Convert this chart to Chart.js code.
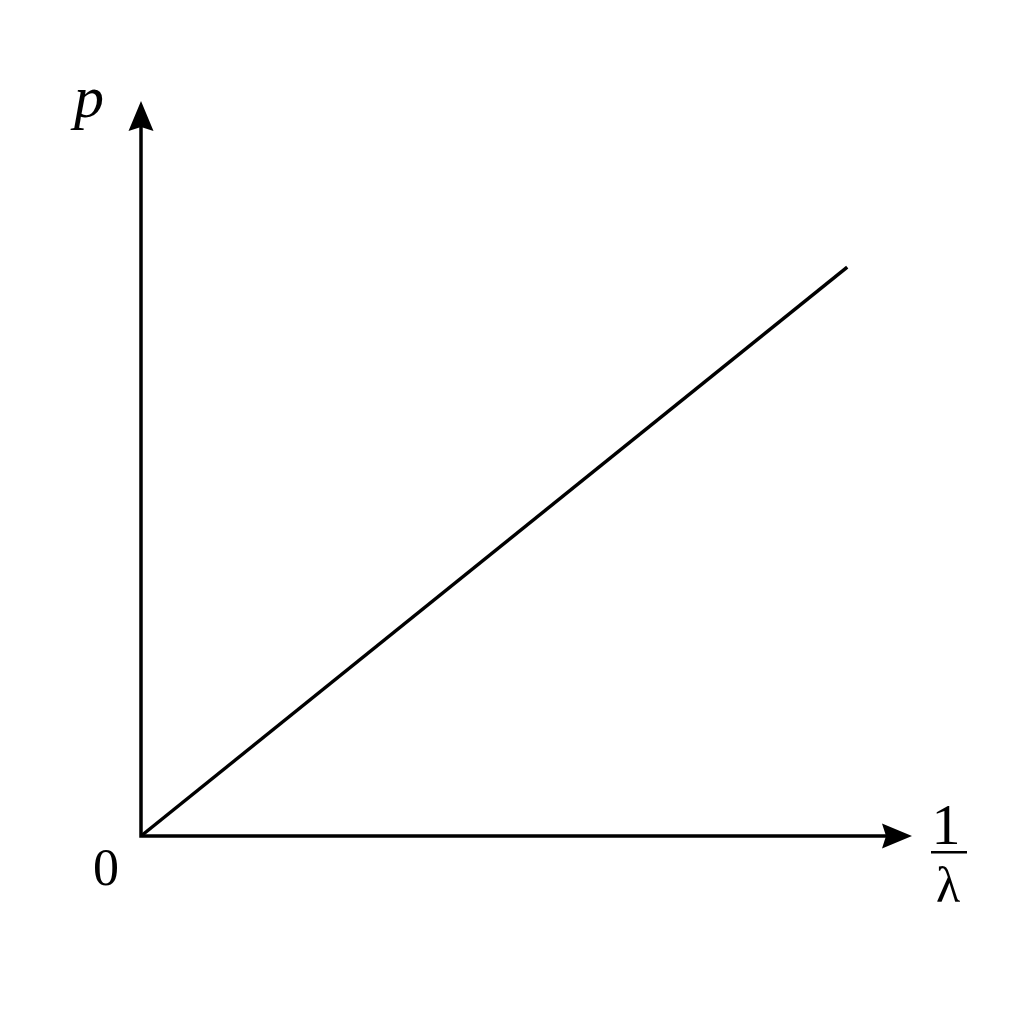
<!DOCTYPE html>
<html>
<head>
<meta charset="utf-8">
<script src="https://cdn.jsdelivr.net/npm/chart.js@4"></script>
<style>
  html, body { margin: 0; padding: 0; background: #fff; }
  #wrap { width: 1024px; height: 1024px; }
</style>
</head>
<body>
<div id="wrap"><canvas id="chart" width="1024" height="1024"></canvas></div>
<script>
// p is proportional to 1/lambda: a straight line from the origin.
const xValues = [0, 9.16];
const yValues = [0, 7.74];
const xRange = [0, 10];
const yRange = [0, 10];

const SERIF = '"Liberation Serif", "Times New Roman", serif';

const drawArrow = (ctx, tipX, tipY, dirX, dirY) => {
  // Stealth-style arrow head with a slight notch at the back.
  const len = 30, half = 12.5, notch = 4;
  const px = -dirY, py = dirX;
  ctx.beginPath();
  ctx.moveTo(tipX, tipY);
  ctx.lineTo(tipX - dirX * len + px * half, tipY - dirY * len + py * half);
  ctx.lineTo(tipX - dirX * (len - notch), tipY - dirY * (len - notch));
  ctx.lineTo(tipX - dirX * len - px * half, tipY - dirY * len - py * half);
  ctx.closePath();
  ctx.fill();
};

const axesPlugin = {
  id: 'axesPlugin',
  afterDatasetsDraw(chart) {
    const { ctx, scales: { x, y } } = chart;
    const ox = x.getPixelForValue(0);
    const oy = y.getPixelForValue(0);
    const xEnd = x.getPixelForValue(xRange[1]);
    const yEnd = y.getPixelForValue(yRange[1]);

    ctx.save();
    ctx.strokeStyle = '#000';
    ctx.fillStyle = '#000';
    ctx.lineWidth = 3.5;
    ctx.lineCap = 'butt';

    ctx.beginPath();
    ctx.moveTo(ox, oy + 1.75);
    ctx.lineTo(ox, yEnd + 20);
    ctx.moveTo(ox - 1.75, oy);
    ctx.lineTo(xEnd - 20, oy);
    ctx.stroke();

    drawArrow(ctx, ox, yEnd, 0, -1);
    drawArrow(ctx, xEnd, oy, 1, 0);

    ctx.textAlign = 'center';
    ctx.textBaseline = 'alphabetic';

    ctx.font = 'italic 60px ' + SERIF;
    ctx.fillText('p', ox - 52, oy - 719);

    ctx.font = '52px ' + SERIF;
    ctx.fillText('0', ox - 35, oy + 49);

    ctx.font = '58px ' + SERIF;
    ctx.fillText('1', xEnd + 34, oy + 8);
    ctx.fillRect(xEnd + 19, oy + 15, 36, 2.5);
    ctx.font = '50px ' + SERIF;
    ctx.fillText('λ', xEnd + 36, oy + 66);

    ctx.restore();
  }
};

const buildChart = () => new Chart(document.getElementById('chart'), {
  type: 'scatter',
  data: {
    datasets: [
      {
        data: xValues.map((v, i) => ({ x: v, y: yValues[i] })),
        showLine: true,
        borderColor: '#000',
        borderWidth: 3.5,
        pointRadius: 0,
        fill: false,
        clip: false
      }
    ]
  },
  options: {
    responsive: false,
    animation: false,
    devicePixelRatio: 1,
    layout: { padding: { left: 141, right: 112, top: 101, bottom: 188 } },
    scales: {
      x: { type: 'linear', min: xRange[0], max: xRange[1], display: false },
      y: { type: 'linear', min: yRange[0], max: yRange[1], display: false }
    },
    plugins: {
      legend: { display: false },
      tooltip: { enabled: false }
    }
  },
  plugins: [axesPlugin]
});

// Make sure the serif face is ready before the canvas draws text.
Promise.all([
  document.fonts.load('italic 60px "Liberation Serif"'),
  document.fonts.load('52px "Liberation Serif"')
]).catch(() => {}).then(buildChart);
</script>
</body>
</html>
